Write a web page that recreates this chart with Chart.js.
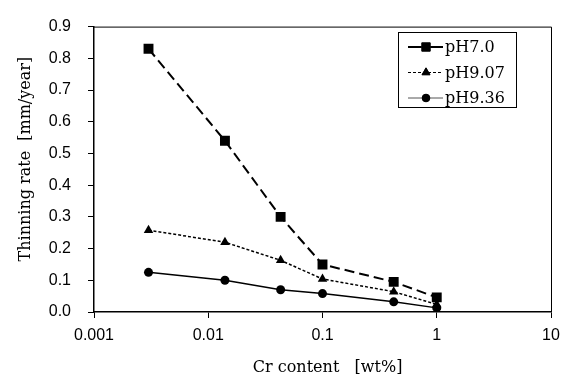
<!DOCTYPE html>
<html>
<head>
<meta charset="utf-8">
<script src="https://cdn.jsdelivr.net/npm/chart.js@4/dist/chart.umd.min.js"></script>
<style>
  html, body { margin: 0; padding: 0; background: #fff; }
  #wrap { width: 568px; height: 385px; }
</style>
</head>
<body>
<div id="wrap"><canvas id="c" width="568" height="385"></canvas></div>
<script>
// ---- data ----
const crContent = [0.003, 0.014, 0.043, 0.1, 0.42, 1];
const pH70  = [0.83, 0.54, 0.30, 0.15, 0.095, 0.046];
const pH907 = [0.258, 0.22, 0.163, 0.104, 0.064, 0.024];
const pH936 = [0.125, 0.10, 0.07, 0.058, 0.032, 0.013];
const seriesNames = ['pH7.0', 'pH9.07', 'pH9.36'];
const xTickValues = [0.001, 0.01, 0.1, 1, 10];
const yTickValues = [0, 0.1, 0.2, 0.3, 0.4, 0.5, 0.6, 0.7, 0.8, 0.9];
const xTitle = '  Cr content   [wt%]';
const yTitle = '    Thinning rate  [mm/year]';

const toPts = arr => crContent.map((x, i) => ({ x: x, y: arr[i] }));

const serif = "'DejaVu Serif', serif";
const sans = "'Liberation Sans', Arial, sans-serif";

const legendStyles = [
  { dash: [], width: 2, color: '#000' },
  { dash: [3, 2], width: 1, color: '#000' },
  { dash: [], width: 1, color: '#555' }
];

const boxAndLegend = {
  id: 'boxAndLegend',
  afterDraw(chart) {
    const ctx = chart.ctx;
    const a = chart.chartArea;
    ctx.save();
    // top and right frame lines
    ctx.strokeStyle = '#000';
    ctx.lineWidth = 1;
    ctx.beginPath();
    ctx.moveTo(a.left, a.top + 0.5);
    ctx.lineTo(a.right + 0.5, a.top + 0.5);
    ctx.lineTo(a.right + 0.5, a.bottom);
    ctx.stroke();

    // legend box
    const lx = 398, ly = 32, lw = 118, lh = 75;
    ctx.fillStyle = '#fff';
    ctx.fillRect(lx, ly, lw, lh);
    ctx.strokeStyle = '#000';
    ctx.lineWidth = 1;
    ctx.strokeRect(lx + 0.5, ly + 0.5, lw, lh);

    chart.data.datasets.forEach((ds, i) => {
      const y = 47 + i * 25.5;
      const st = legendStyles[i];
      ctx.save();
      ctx.strokeStyle = st.color;
      ctx.lineWidth = st.width;
      ctx.setLineDash(st.dash);
      ctx.beginPath();
      ctx.moveTo(408, y);
      ctx.lineTo(443, y);
      ctx.stroke();
      ctx.restore();
      Chart.helpers.drawPoint(ctx, {
        pointStyle: ds.pointStyle,
        radius: ds.pointRadius * 0.85,
        borderWidth: 1,
        rotation: 0
      }, 426, y);
      ctx.fillStyle = '#000';
      ctx.fill();
      ctx.fillStyle = '#000';
      ctx.font = "16px " + serif;
      ctx.textBaseline = 'middle';
      ctx.textAlign = 'left';
      ctx.fillText(ds.label, 445, y + 1);
    });
    ctx.restore();
  }
};

new Chart(document.getElementById('c'), {
  type: 'line',
  data: {
    datasets: [
      {
        label: seriesNames[0], data: toPts(pH70),
        borderColor: '#000', backgroundColor: '#000', borderWidth: 2,
        borderDash: [10, 5], pointStyle: 'rect', pointRadius: 7,
        pointBorderWidth: 0, tension: 0
      },
      {
        label: seriesNames[1], data: toPts(pH907),
        borderColor: '#000', backgroundColor: '#000', borderWidth: 1.5,
        borderDash: [3, 2], pointStyle: 'triangle', pointRadius: 5.5,
        pointBorderWidth: 0, tension: 0
      },
      {
        label: seriesNames[2], data: toPts(pH936),
        borderColor: '#000', backgroundColor: '#000', borderWidth: 1.5,
        pointStyle: 'circle', pointRadius: 4.5,
        pointBorderWidth: 0, tension: 0
      }
    ]
  },
  options: {
    responsive: false,
    animation: false,
    devicePixelRatio: 1,
    layout: { padding: { left: 0, top: 15, right: 17, bottom: 0 } },
    plugins: { legend: { display: false }, tooltip: { enabled: false } },
    scales: {
      x: {
        type: 'logarithmic',
        min: 0.001, max: 10,
        afterBuildTicks(scale) { scale.ticks = xTickValues.map(v => ({ value: v })); },
        afterFit(scale) { scale.height = 73; },
        ticks: {
          color: '#000', font: { family: sans, size: 16 }, padding: 8,
          maxRotation: 0, autoSkip: false,
          callback: v => String(v)
        },
        grid: { drawOnChartArea: false, drawTicks: true, tickLength: 6, tickColor: '#000', tickWidth: 1 },
        border: { display: true, color: '#000', width: 1.5 },
        title: { display: true, text: xTitle, color: '#000', font: { family: serif, size: 16 }, padding: { top: 0, bottom: 8 } }
      },
      y: {
        type: 'linear',
        min: 0, max: 0.9,
        afterBuildTicks(scale) { scale.ticks = yTickValues.map(v => ({ value: v })); },
        afterFit(scale) { scale.width = 94; },
        ticks: {
          color: '#000', font: { family: sans, size: 16 }, padding: 17,
          callback: v => Number(v).toFixed(1)
        },
        grid: { drawOnChartArea: false, drawTicks: true, tickLength: 6, tickColor: '#000', tickWidth: 1 },
        border: { display: true, color: '#000', width: 1.5 },
        title: { display: true, text: yTitle, color: '#000', font: { family: serif, size: 16 }, padding: { top: 16, bottom: 0 } }
      }
    }
  },
  plugins: [boxAndLegend]
});
</script>
</body>
</html>
